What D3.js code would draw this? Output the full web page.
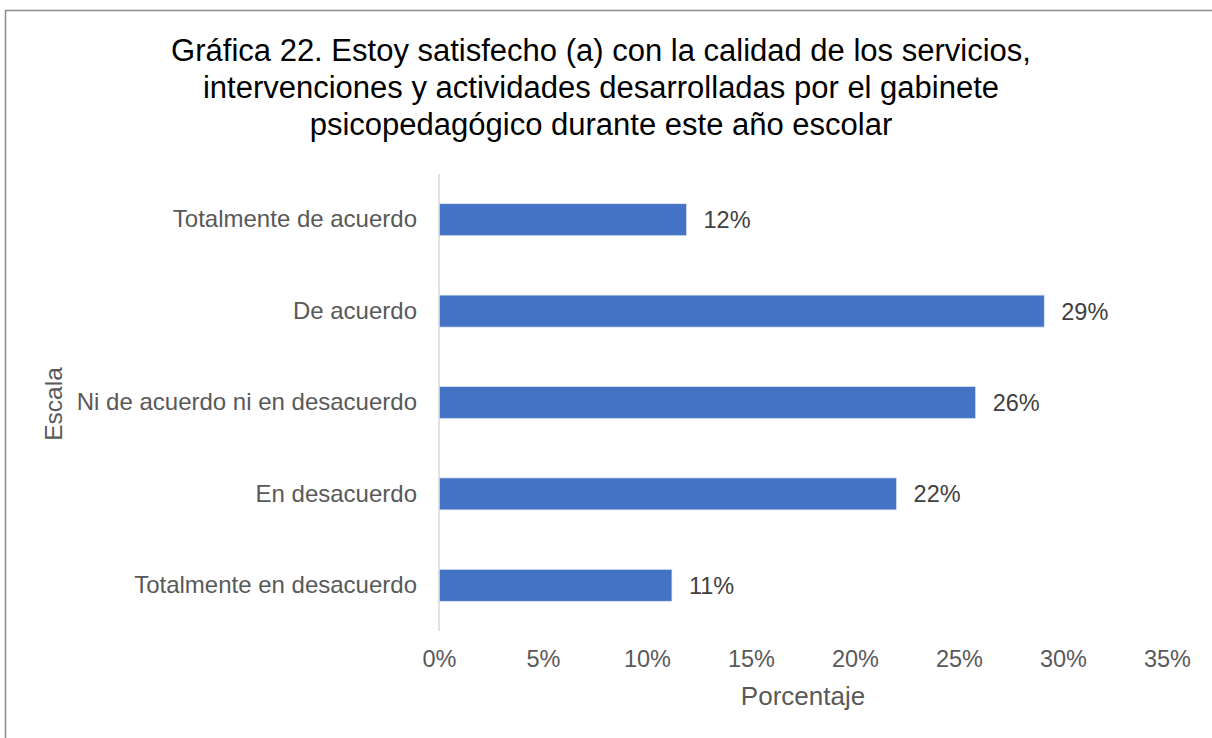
<!DOCTYPE html>
<html>
<head>
    <meta charset="utf-8">
    <title>Gráfica 22</title>
    <style>
        body { margin: 0; background: #fff; }
        svg { display: block; font-family: 'Liberation Sans', Arial, sans-serif; }
    </style>
    <script src="https://cdnjs.cloudflare.com/ajax/libs/d3/7.8.5/d3.min.js"></script>
</head>
<body>
    <div id="chart"></div>
    <script>
        const titleLines = [
            'Gráfica 22. Estoy satisfecho (a) con la calidad de los servicios,',
            'intervenciones y actividades desarrolladas por el gabinete',
            'psicopedagógico durante este año escolar'
        ];
        const categories = [
            'Totalmente de acuerdo',
            'De acuerdo',
            'Ni de acuerdo ni en desacuerdo',
            'En desacuerdo',
            'Totalmente en desacuerdo'
        ];
        // bar lengths (labels show them rounded)
        const values = [0.119, 0.291, 0.258, 0.22, 0.112];
        const xTicks = [0, 0.05, 0.10, 0.15, 0.20, 0.25, 0.30, 0.35];

        const width = 1212, height = 738;
        const margin = { top: 174, left: 439, right: 45, bottom: 107 };

        const svg = d3.select('#chart')
            .append('svg')
            .attr('width', width)
            .attr('height', height);

        // outer chart border (only top and left visible in the crop)
        svg.append('rect')
            .attr('x', 5.5).attr('y', 10.5)
            .attr('width', width + 20).attr('height', height + 20)
            .attr('fill', 'none')
            .attr('stroke', '#8c8c8c')
            .attr('stroke-width', 1.5);

        const x = d3.scaleLinear()
            .domain([0, 0.35])
            .range([margin.left, width - margin.right]);

        const y = d3.scaleBand()
            .domain(categories)
            .range([margin.top, height - margin.bottom])
            .paddingInner(0.65)
            .paddingOuter(0.325);

        // title
        svg.append('text')
            .attr('text-anchor', 'middle')
            .attr('font-size', 31)
            .attr('fill', '#000')
            .selectAll('tspan')
            .data(titleLines)
            .join('tspan')
            .attr('x', 601)
            .attr('y', (d, i) => 61 + i * 37)
            .text(d => d);

        // bars
        svg.selectAll('rect.bar')
            .data(values)
            .join('rect')
            .attr('class', 'bar')
            .attr('x', x(0))
            .attr('y', (d, i) => y(categories[i]))
            .attr('width', d => x(d) - x(0))
            .attr('height', y.bandwidth())
            .attr('fill', '#4472c4')
            .attr('stroke', '#dbe4f3')
            .attr('stroke-width', 0.75);

        // data labels
        svg.selectAll('text.label')
            .data(values)
            .join('text')
            .attr('class', 'label')
            .attr('x', d => x(d) + 17)
            .attr('y', (d, i) => y(categories[i]) + y.bandwidth() / 2)
            .attr('dy', '0.36em')
            .attr('font-size', 23.5)
            .attr('fill', '#404040')
            .text(d => d3.format('.0%')(d));

        // vertical axis line at 0
        svg.append('line')
            .attr('x1', x(0)).attr('x2', x(0))
            .attr('y1', margin.top).attr('y2', height - margin.bottom)
            .attr('stroke', '#d9d9d9')
            .attr('stroke-width', 1.5);

        // category axis
        const yAxis = svg.append('g')
            .attr('transform', `translate(${x(0)},0)`)
            .call(d3.axisLeft(y).tickSize(0).tickPadding(22));
        yAxis.select('.domain').remove();
        yAxis.selectAll('text')
            .attr('font-size', 24)
            .attr('font-family', null)
            .attr('fill', '#595959');

        // value axis
        const xAxis = svg.append('g')
            .attr('transform', `translate(0,${height - margin.bottom})`)
            .call(d3.axisBottom(x).tickValues(xTicks).tickFormat(d3.format('.0%')).tickSize(0).tickPadding(19));
        xAxis.select('.domain').remove();
        xAxis.selectAll('text')
            .attr('font-size', 23.5)
            .attr('font-family', null)
            .attr('fill', '#595959');

        // axis titles
        svg.append('text')
            .attr('x', (x(0) + x(0.35)) / 2)
            .attr('y', 705)
            .attr('text-anchor', 'middle')
            .attr('font-size', 26)
            .attr('fill', '#595959')
            .text('Porcentaje');

        svg.append('text')
            .attr('transform', 'translate(62,404) rotate(-90)')
            .attr('text-anchor', 'middle')
            .attr('font-size', 24.5)
            .attr('fill', '#595959')
            .text('Escala');
    </script>
</body>
</html>
